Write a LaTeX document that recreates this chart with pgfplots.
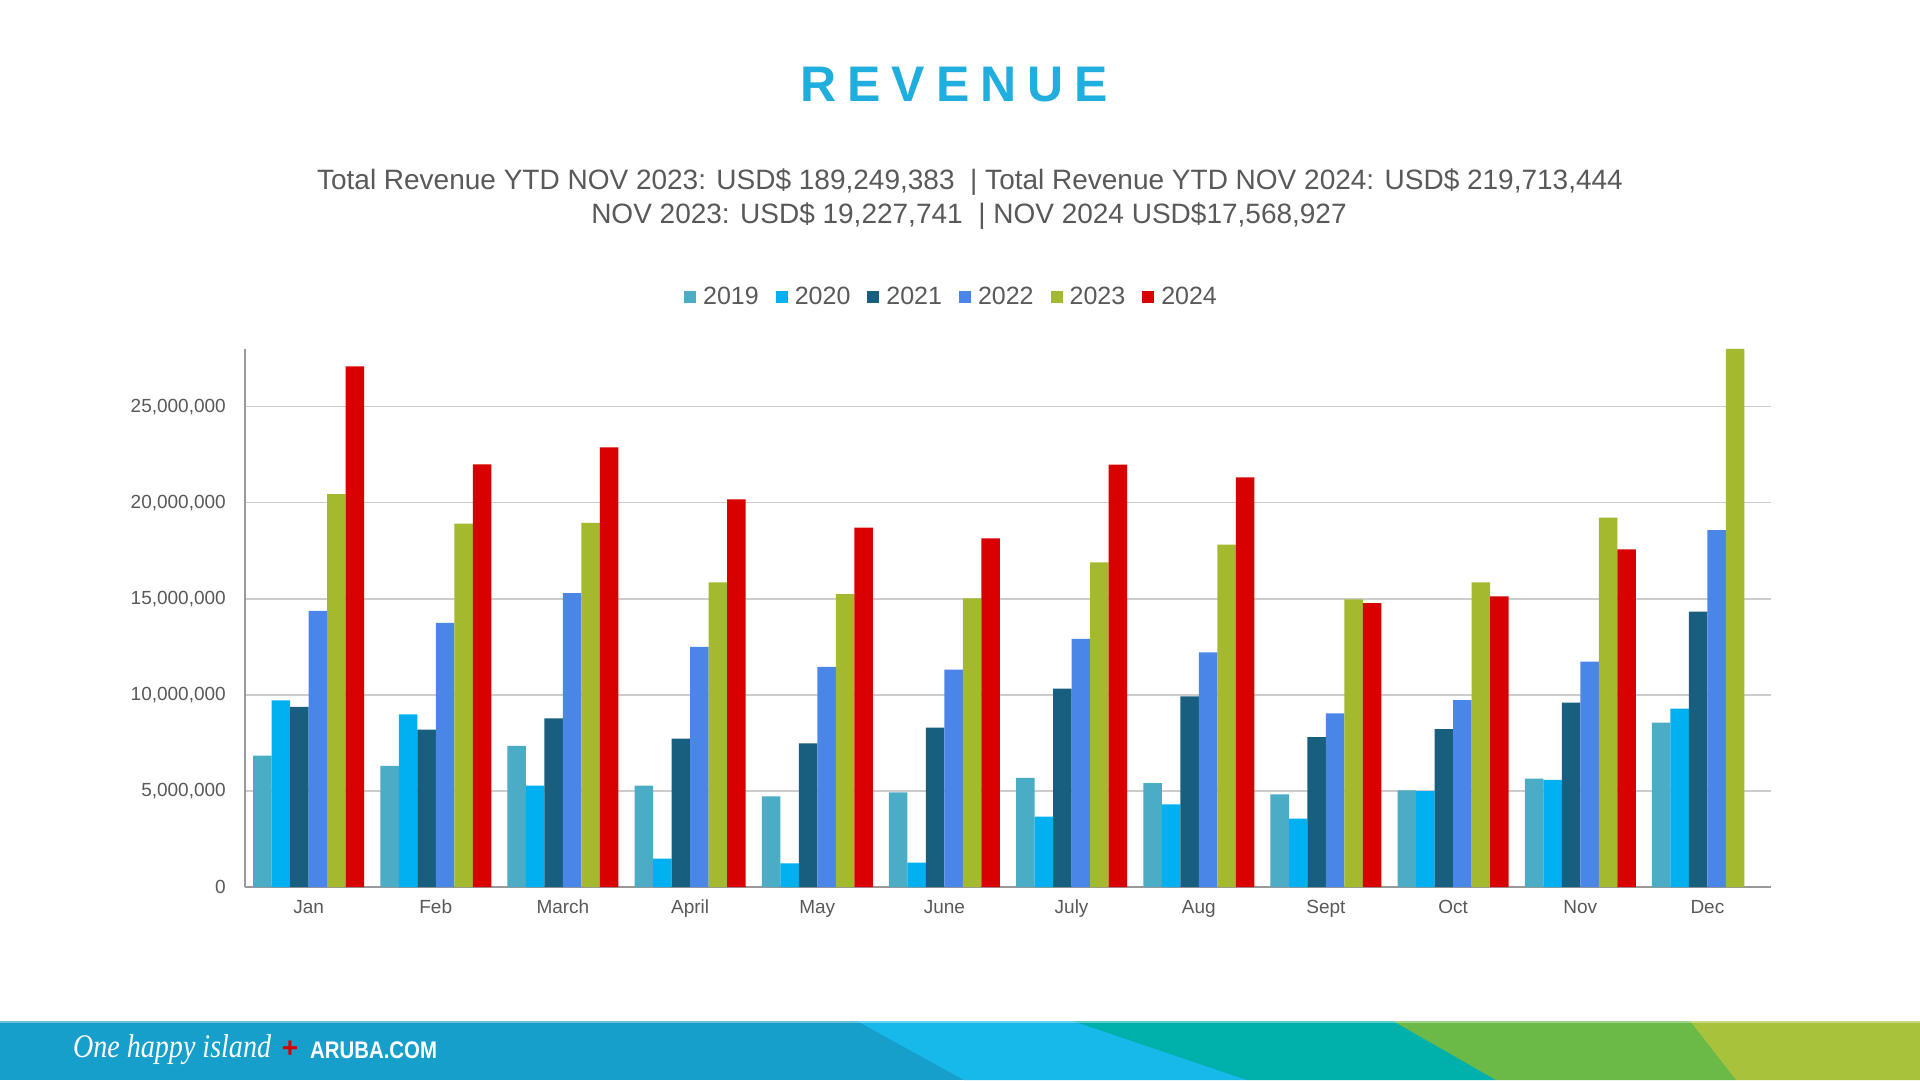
\documentclass[border=0pt]{standalone}
\usepackage{fontspec}
\setmainfont{Liberation Sans}
\newfontfamily\serifit{Liberation Serif}
\usepackage{pgfplots}
\usepackage{pgfplotstable}
\pgfplotsset{compat=1.18}
\definecolor{c2019}{HTML}{4BACC6}
\definecolor{c2020}{HTML}{00B0F0}
\definecolor{c2021}{HTML}{175E7F}
\definecolor{c2022}{HTML}{4A86E8}
\definecolor{c2023}{HTML}{A5B92F}
\definecolor{c2024}{HTML}{D90000}
\definecolor{titleblue}{HTML}{1FAEDD}
\definecolor{txtgray}{HTML}{595959}
\definecolor{fa}{HTML}{179FCC}
\definecolor{fb}{HTML}{17B9EB}
\definecolor{fc}{HTML}{00B1AB}
\definecolor{fd}{HTML}{6BBA47}
\definecolor{fe}{HTML}{A9C23B}
\pgfplotsset{sqlegend/.style={legend image code/.code={\fill[##1] (0pt,-6pt) rectangle (12pt,6pt);}}}

\pgfplotstableread{
x y2019 y2020 y2021 y2022 y2023 y2024
0 6840000 9710000 9380000 14370000 20450000 27100000
1 6300000 8980000 8190000 13750000 18910000 22000000
2 7340000 5280000 8780000 15290000 18950000 22880000
3 5280000 1480000 7720000 12500000 15850000 20170000
4 4720000 1230000 7470000 11460000 15240000 18700000
5 4930000 1270000 8300000 11310000 15020000 18140000
6 5680000 3660000 10320000 12920000 16890000 21980000
7 5410000 4300000 9920000 12210000 17820000 21320000
8 4820000 3560000 7800000 9030000 14970000 14770000
9 5030000 4990000 8220000 9730000 15850000 15120000
10 5640000 5570000 9590000 11730000 19227741 17568927
11 8550000 9280000 14330000 18570000 28000000 nan
}\revenue

\begin{document}
\begin{tikzpicture}
\path[use as bounding box, fill=white] (0pt,0pt) rectangle (1920pt,1080pt);

% title and subtitles
\node[anchor=west, inner sep=0pt, text=titleblue, font=\fontsize{50}{50}\selectfont\bfseries\addfontfeatures{LetterSpace=22}] at (800pt,995pt) {REVENUE};
\node[anchor=base, inner sep=0pt, text=txtgray, font=\fontsize{28}{28}\selectfont] at (970pt,890pt)
  {Total Revenue YTD NOV 2023: USD\$ 189,249,383 \ | Total Revenue YTD NOV 2024: USD\$ 219,713,444};
\node[anchor=base, inner sep=0pt, text=txtgray, font=\fontsize{28}{28}\selectfont] at (969pt,856pt)
  {NOV 2023: USD\$ 19,227,741 \ | NOV 2024 USD\$17,568,927};

\begin{axis}[
  at={(245pt,193pt)}, anchor=south west,
  scale only axis, width=1526pt, height=538pt,
  ybar=0pt, bar width=18.5pt,
  xmin=-0.5, xmax=11.5, ymin=0, ymax=28000000,
  enlargelimits=false,
  axis x line*=bottom, axis y line*=left,
  axis line style={-, draw=black!40, line width=1.5pt},
  xtick={0,1,2,3,4,5,6,7,8,9,10,11},
  xticklabels={Jan,Feb,March,April,May,June,July,Aug,Sept,Oct,Nov,Dec},
  ytick={0,5000000,10000000,15000000,20000000,25000000},
  scaled y ticks=false,
  /pgf/number format/fixed,
  /pgf/number format/precision=0,
  /pgf/number format/1000 sep={,},
  /pgf/number format/assume math mode=true,
  major tick length=0pt,
  tick label style={font=\fontsize{19}{19}\selectfont, text=txtgray, inner sep=0pt},
  yticklabel style={anchor=east, xshift=-19pt},
  xticklabel style={anchor=north, yshift=-13pt},
  ymajorgrids, grid style={draw=black!20, line width=1.5pt},
  legend columns=6,
  legend style={at={(0.463,1)}, anchor=center, yshift=52pt, draw=none,
    font=\fontsize{25}{25}\selectfont, text=txtgray,
    /tikz/every odd column/.append style={column sep=5pt},
    /tikz/every even column/.append style={column sep=15pt}},
]
\addplot[fill=c2019, draw=none, sqlegend] table[x=x, y=y2019] {\revenue};
\addplot[fill=c2020, draw=none, sqlegend] table[x=x, y=y2020] {\revenue};
\addplot[fill=c2021, draw=none, sqlegend] table[x=x, y=y2021] {\revenue};
\addplot[fill=c2022, draw=none, sqlegend] table[x=x, y=y2022] {\revenue};
\addplot[fill=c2023, draw=none, sqlegend] table[x=x, y=y2023] {\revenue};
\addplot[fill=c2024, draw=none, sqlegend] table[x=x, y=y2024] {\revenue};
\legend{2019,2020,2021,2022,2023,2024}
\end{axis}

% footer band
\fill[fa] (0pt,0pt) rectangle (1920pt,59pt);
\fill[fb] (857pt,59pt) -- (1073pt,59pt) -- (1247pt,0pt) -- (964pt,0pt) -- cycle;
\fill[fc] (1073pt,59pt) -- (1393pt,59pt) -- (1496pt,0pt) -- (1247pt,0pt) -- cycle;
\fill[fd] (1393pt,59pt) -- (1690pt,59pt) -- (1736pt,0pt) -- (1496pt,0pt) -- cycle;
\fill[fe] (1690pt,59pt) -- (1920pt,59pt) -- (1920pt,0pt) -- (1736pt,0pt) -- cycle;
\fill[white, opacity=0.35] (0pt,57pt) rectangle (1920pt,59pt);
\node[anchor=west, inner sep=0pt, text=white, font=\serifit\itshape\fontsize{33}{33}\selectfont, xscale=0.85] at (73pt,30pt) {One happy island};
\node[inner sep=0pt, text=c2024, font=\bfseries\fontsize{28}{28}\selectfont] at (290pt,31pt) {+};
\node[anchor=west, inner sep=0pt, text=white, font=\bfseries\fontsize{24}{24}\selectfont, xscale=0.85] at (310pt,30pt) {ARUBA.COM};
\end{tikzpicture}
\end{document}
